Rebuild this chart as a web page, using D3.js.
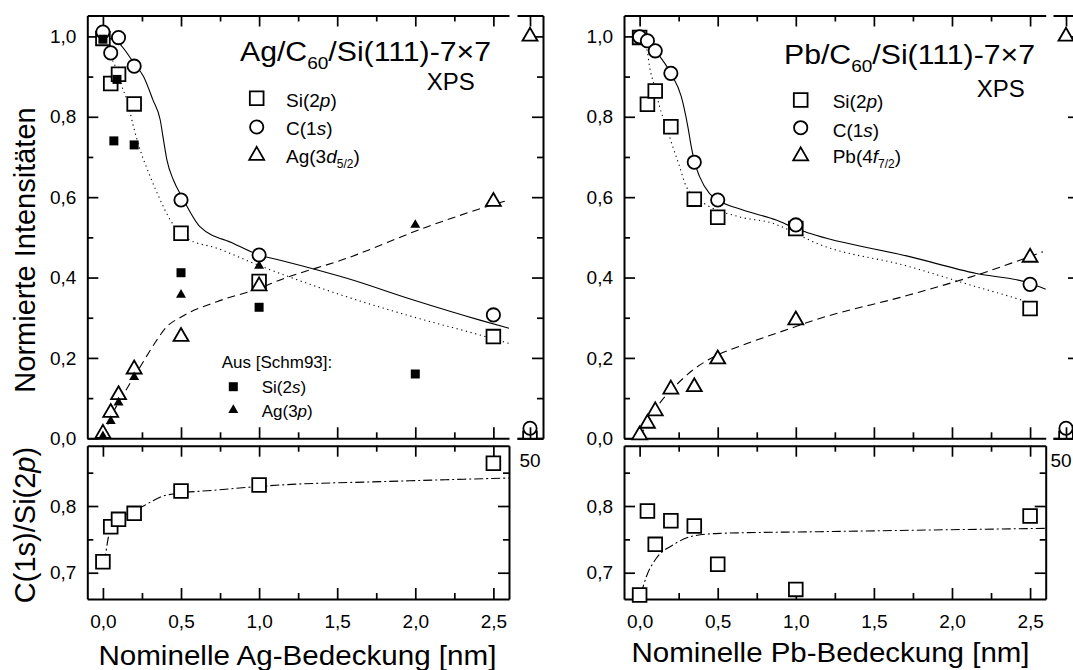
<!DOCTYPE html>
<html>
<head>
<meta charset="utf-8">
<script src="https://cdn.jsdelivr.net/npm/d3@7"></script>
<style>
  html, body { margin: 0; padding: 0; background: #fff; }
  svg { display: block; font-family: "Liberation Sans", Arial, Helvetica, sans-serif; }
</style>
</head>
<body>
<svg id="chart" width="1073" height="670"></svg>
<script>
// ---------- axis ticks ----------
const xMajor = [0, 0.5, 1, 1.5, 2, 2.5];
const xMinor = [0.25, 0.75, 1.25, 1.75, 2.25];
const yMajor = [0, 0.2, 0.4, 0.6, 0.8, 1.0];
const yMinor = [0.1, 0.3, 0.5, 0.7, 0.9];
const rMajor = [0.7, 0.8];
const rMinor = [0.75, 0.85];
const farX = [50];

// ---------- Ag/C60/Si(111)-7x7 ----------
const agX     = [0, 0.05, 0.1, 0.2, 0.5, 1.0, 2.5];
const agSi2p  = [0.995, 0.883, 0.906, 0.832, 0.51, 0.39, 0.253];
const agC1s   = [1.011, 0.959, 0.997, 0.926, 0.593, 0.456, 0.307];
const agAg3d  = [0.012, 0.064, 0.108, 0.172, 0.253, 0.379, 0.589];
const agRatio = [0.7165, 0.769, 0.78, 0.789, 0.8225, 0.8315, 0.864];
// values at 50 nm
const agFarSi2p = [0.0], agFarC1s = [0.025], agFarAg3d = [1.0];
// reference data [Schm93]
const schmSiX  = [0, 0.07, 0.09, 0.2, 0.5, 1.0, 2.0];
const schmSi2s = [0.993, 0.74, 0.893, 0.73, 0.412, 0.326, 0.16];
const schmAgX  = [0, 0.05, 0.1, 0.2, 0.5, 1.0, 2.0];
const schmAg3p = [0.005, 0.043, 0.089, 0.152, 0.357, 0.429, 0.531];
// guide curves
const agC1sFitX  = [0, 0.1, 0.2, 0.26, 0.32, 0.367, 0.388, 0.41, 0.452, 0.506, 0.623, 0.836, 1.0, 1.135, 1.562, 1.988, 2.414, 2.6];
const agC1sFitY  = [1.0, 0.984, 0.933, 0.9, 0.842, 0.792, 0.742, 0.692, 0.642, 0.601, 0.526, 0.485, 0.456, 0.443, 0.398, 0.344, 0.294, 0.274];
const agSiFitX   = [0, 0.05, 0.1, 0.122, 0.154, 0.196, 0.239, 0.303, 0.367, 0.431, 0.538, 0.73, 1.0, 1.135, 1.562, 1.988, 2.414, 2.6];
const agSiFitY   = [0.995, 0.95, 0.905, 0.875, 0.842, 0.775, 0.717, 0.651, 0.593, 0.543, 0.4975, 0.473, 0.43, 0.41, 0.352, 0.302, 0.257, 0.236];
const agAgFitX   = [0, 0.068, 0.154, 0.239, 0.324, 0.41, 0.501, 0.73, 1.0, 1.135, 1.562, 2.074, 2.565, 2.6];
const agAgFitY   = [0.004, 0.066, 0.124, 0.178, 0.232, 0.278, 0.302, 0.34, 0.373, 0.394, 0.448, 0.526, 0.589, 0.593];
const agRatioFitX = [0, 0.015, 0.036, 0.079, 0.26, 0.41, 0.73, 1.135, 1.775, 2.6];
const agRatioFitY = [0.716, 0.726, 0.754, 0.7715, 0.8, 0.8165, 0.824, 0.8315, 0.8365, 0.842];

// ---------- Pb/C60/Si(111)-7x7 ----------
const pbX     = [0, 0.05, 0.1, 0.2, 0.35, 0.5, 1.0, 2.5];
const pbSi2p  = [0.9975, 0.831, 0.864, 0.775, 0.595, 0.55, 0.522, 0.323];
const pbC1s   = [0.999, 0.989, 0.964, 0.908, 0.687, 0.593, 0.531, 0.383];
const pbPb4f  = [0.008, 0.037, 0.068, 0.122, 0.128, 0.197, 0.294, 0.45];
const pbRatio = [0.6666, 0.7925, 0.7425, 0.778, 0.77, 0.7126, 0.675, 0.785];
const pbFarSi2p = [0.0], pbFarC1s = [0.025], pbFarPb4f = [1.0];
const pbC1sFitX = [0, 0.047, 0.1, 0.2, 0.267, 0.309, 0.331, 0.352, 0.384, 0.448, 0.501, 0.661, 0.875, 1.0, 1.088, 1.729, 2.156, 2.5, 2.6];
const pbC1sFitY = [1.0, 0.99, 0.965, 0.908, 0.85, 0.775, 0.725, 0.687, 0.651, 0.609, 0.593, 0.568, 0.543, 0.522, 0.51, 0.452, 0.41, 0.386, 0.371];
const pbSiFitX  = [0, 0.047, 0.064, 0.096, 0.128, 0.171, 0.213, 0.256, 0.299, 0.384, 0.64, 0.853, 1.0, 1.088, 1.729, 2.156, 2.412, 2.5];
const pbSiFitY  = [0.998, 0.966, 0.924, 0.875, 0.825, 0.775, 0.725, 0.676, 0.626, 0.593, 0.551, 0.535, 0.51, 0.493, 0.427, 0.377, 0.348, 0.337];
const pbPbFitX  = [0, 0.064, 0.128, 0.213, 0.341, 0.497, 0.661, 1.0, 1.088, 1.729, 2.156, 2.582];
const pbPbFitY  = [0.004, 0.0455, 0.087, 0.124, 0.17, 0.207, 0.232, 0.278, 0.29, 0.357, 0.406, 0.464];
const pbRatioFitX = [0.01, 0.043, 0.107, 0.213, 0.341, 0.512, 1.152, 2.6];
const pbRatioFitY = [0.669, 0.694, 0.7216, 0.7415, 0.755, 0.759, 0.7615, 0.7665];

const svg = d3.select("#chart");
const fmt = d => d3.format(".1f")(d).replace(".", ",");
const zip = (xs, ys) => xs.map((v, i) => [v, ys[i]]);

// text made of pieces (italic letters, subscripts)
function richText(g, x, y, size, parts, anchor) {
  const t = g.append("text").attr("x", x).attr("y", y)
    .attr("font-size", size).attr("text-anchor", anchor || "start").attr("fill", "#000");
  let shift = 0;
  parts.forEach(p => {
    const s = t.append("tspan").text(p.t);
    if (p.i) s.attr("font-style", "italic");
    if (p.fs) s.attr("font-size", p.fs);
    const want = p.sub || 0;
    if (want !== shift) { s.attr("dy", want - shift); shift = want; }
  });
  return t;
}

function styleAxis(sel, keepDomain) {
  sel.selectAll("line").attr("stroke", "#000").attr("stroke-width", 1.7);
  sel.select(".domain").attr("stroke", "#000").attr("stroke-width", 2);
  if (!keepDomain) sel.select(".domain").remove();
  sel.selectAll("text").attr("font-size", 19).attr("fill", "#000")
    .attr("font-family", '"Liberation Sans", Arial, sans-serif');
}

function axisPair(g, make, scale, major, minor, tx, ty, labels, pad, domain) {
  const a = g.append("g").attr("transform", `translate(${tx},${ty})`)
    .call(make(scale).tickValues(major).tickSize(-11).tickSizeOuter(0)
      .tickPadding(pad || 11).tickFormat(labels ? fmt : ""));
  styleAxis(a, domain !== false);
  if (minor && minor.length) {
    const b = g.append("g").attr("transform", `translate(${tx},${ty})`)
      .call(make(scale).tickValues(minor).tickSize(-6).tickFormat(""));
    styleAxis(b, false);
  }
}

const sym = (type, size) => d3.symbol().type(type).size(size)();
const OPEN = { square: sym(d3.symbolSquare, 188), circle: sym(d3.symbolCircle, 139), triangle: sym(d3.symbolTriangle, 97) };
const FILLED = { square: sym(d3.symbolSquare, 81), triangle: sym(d3.symbolTriangle, 43) };

function markers(g, pts, xs, ys, path, filled) {
  g.selectAll(null).data(pts).join("path")
    .attr("d", path)
    .attr("transform", d => `translate(${xs(d[0])},${ys(d[1])})`)
    .attr("fill", filled ? "#000" : "#fff")
    .attr("stroke", "#000").attr("stroke-width", filled ? 0 : 1.8);
}

function curve(g, pts, xs, ys, dash) {
  const line = d3.line().x(d => xs(d[0])).y(d => ys(d[1])).curve(d3.curveMonotoneX);
  g.append("path").attr("d", line(pts)).attr("fill", "none")
    .attr("stroke", "#000").attr("stroke-width", 1.1)
    .attr("stroke-dasharray", dash);
}

function drawPanel(p) {
  const g = svg.append("g");
  const yTop = 15.5, yBot = 438.3, rTop = 445.7, rBot = 599;
  const x = d3.scaleLinear().domain([-0.1, 2.6]).range([p.left, p.right]);
  const xb = d3.scaleLinear().domain([49.5, 50.5]).range([p.bLeft, p.bRight]);
  const y = d3.scaleLinear().domain([0, 1.052]).range([yBot, yTop]);
  const yr = d3.scaleLinear().domain([0.6606, 0.8904]).range([rBot, rTop]);

  // ---- upper plot axes ----
  axisPair(g, d3.axisLeft, y, yMajor, yMinor, p.left, 0, true, 11);
  axisPair(g, d3.axisTop, x, xMajor, xMinor, 0, yTop, false);
  axisPair(g, d3.axisBottom, x, xMajor, xMinor, 0, yBot, false);
  // broken segment at 50 nm
  axisPair(g, d3.axisTop, xb, farX, [], 0, yTop, false);
  axisPair(g, d3.axisBottom, xb, farX, [], 0, yBot, false);
  axisPair(g, d3.axisRight, y, yMajor, yMinor, p.bRight, 0, false);
  g.append("text").attr("x", Math.min(xb(50), 1061)).attr("y", 467).attr("text-anchor", "middle")
    .attr("font-size", 19).text(fmt(50).replace(",0", ""));

  // ---- lower plot axes ----
  axisPair(g, d3.axisLeft, yr, rMajor, rMinor, p.left, 0, true, 11);
  axisPair(g, d3.axisRight, yr, rMajor, rMinor, p.right, 0, false);
  axisPair(g, d3.axisTop, x, xMajor, xMinor, 0, rTop, false);
  axisPair(g, d3.axisBottom, x, xMajor, xMinor, 0, rBot, true, 16);

  // ---- curves ----
  curve(g, p.c1sFit, x, y, null);
  curve(g, p.siFit, x, y, "1.2,3.6");
  curve(g, p.mFit, x, y, "8,5");
  curve(g, p.ratioFit, x, yr, "9,3,2,3");

  // ---- markers ----
  markers(g, p.si, x, y, OPEN.square);
  markers(g, p.c1s, x, y, OPEN.circle);
  markers(g, p.m, x, y, OPEN.triangle);
  if (p.refSi) markers(g, p.refSi, x, y, FILLED.square, true);
  if (p.refM) markers(g, p.refM, x, y, FILLED.triangle, true);
  markers(g, p.ratio, x, yr, OPEN.square);

  const clipId = "clip" + p.key;
  svg.append("clipPath").attr("id", clipId).append("rect")
    .attr("x", p.bLeft - 10).attr("y", 0).attr("width", 60).attr("height", yBot);
  const gf = g.append("g").attr("clip-path", `url(#${clipId})`);
  markers(gf, p.farSi, xb, y, OPEN.square);
  markers(gf, p.farC, xb, y, OPEN.circle);
  markers(gf, p.farM, xb, y, OPEN.triangle);
  // redraw the axis segment over the clipped markers
  axisPair(g, d3.axisBottom, xb, farX, [], 0, yBot, false);

  // ---- title and legend ----
  richText(g, p.titleX, p.titleY, 27, [{ t: p.metal + "/C" }, { t: "60", sub: 8, fs: 17 }, { t: "/Si(111)-7×7" }])
    .attr("textLength", 251).attr("lengthAdjust", "spacingAndGlyphs");
  richText(g, p.xpsX, p.xpsY, 24, [{ t: "XPS" }]);

  const lg = p.legend;
  const rows = [OPEN.square, OPEN.circle, OPEN.triangle];
  rows.forEach((d, i) => {
    g.append("path").attr("d", d).attr("transform", `translate(${lg.sx},${lg.sy[i]})`)
      .attr("fill", "#fff").attr("stroke", "#000").attr("stroke-width", 1.8);
    richText(g, lg.tx, lg.ty[i], 19, lg.labels[i]);
  });

  // axis titles
  richText(g, p.xTitleX, p.xTitleY, 27, [{ t: "Nominelle " + p.metal + "-Bedeckung [nm]" }], "middle")
    .attr("textLength", 398).attr("lengthAdjust", "spacingAndGlyphs");
  return { g, x, y };
}

const left = drawPanel({
  key: "ag", metal: "Ag", left: 87.3, right: 509, bLeft: 517, bRight: 543,
  si: zip(agX, agSi2p), c1s: zip(agX, agC1s), m: zip(agX, agAg3d), ratio: zip(agX, agRatio),
  farSi: zip(farX, agFarSi2p), farC: zip(farX, agFarC1s), farM: zip(farX, agFarAg3d),
  refSi: zip(schmSiX, schmSi2s), refM: zip(schmAgX, schmAg3p),
  c1sFit: zip(agC1sFitX, agC1sFitY), siFit: zip(agSiFitX, agSiFitY), mFit: zip(agAgFitX, agAgFitY),
  ratioFit: zip(agRatioFitX, agRatioFitY),
  titleX: 240, titleY: 61, xpsX: 426.7, xpsY: 90,
  legend: { sx: 256.7, sy: [98.3, 127, 155.5], tx: 286, ty: [106.7, 135, 162.7],
    labels: [[{ t: "Si(2" }, { t: "p", i: 1 }, { t: ")" }],
             [{ t: "C(1" }, { t: "s", i: 1 }, { t: ")" }],
             [{ t: "Ag(3" }, { t: "d", i: 1 }, { t: "5/2", sub: 5, fs: 12 }, { t: ")" }]] },
  xTitleX: 297.4, xTitleY: 665
});

const right = drawPanel({
  key: "pb", metal: "Pb", left: 624, right: 1045.7, bLeft: 1053, bRight: 1079,
  si: zip(pbX, pbSi2p), c1s: zip(pbX, pbC1s), m: zip(pbX, pbPb4f), ratio: zip(pbX, pbRatio),
  farSi: zip(farX, pbFarSi2p), farC: zip(farX, pbFarC1s), farM: zip(farX, pbFarPb4f),
  c1sFit: zip(pbC1sFitX, pbC1sFitY), siFit: zip(pbSiFitX, pbSiFitY), mFit: zip(pbPbFitX, pbPbFitY),
  ratioFit: zip(pbRatioFitX, pbRatioFitY),
  titleX: 784, titleY: 64, xpsX: 976.7, xpsY: 97,
  legend: { sx: 800.7, sy: [100, 127.7, 156], tx: 832.7, ty: [108.3, 136.7, 163.3],
    labels: [[{ t: "Si(2" }, { t: "p", i: 1 }, { t: ")" }],
             [{ t: "C(1" }, { t: "s", i: 1 }, { t: ")" }],
             [{ t: "Pb(4" }, { t: "f", i: 1 }, { t: "7/2", sub: 5, fs: 12 }, { t: ")" }]] },
  xTitleX: 830.5, xTitleY: 662
});

// reference data legend
const lg2 = left.g;
richText(lg2, 221.7, 368.3, 17, [{ t: "Aus [Schm93]:" }]);
lg2.append("path").attr("d", FILLED.square).attr("transform", "translate(233.3,386.7)").attr("fill", "#000");
richText(lg2, 261.7, 393.3, 17, [{ t: "Si(2" }, { t: "s", i: 1 }, { t: ")" }]);
lg2.append("path").attr("d", FILLED.triangle).attr("transform", "translate(233.3,410)").attr("fill", "#000");
richText(lg2, 261.7, 416.7, 17, [{ t: "Ag(3" }, { t: "p", i: 1 }, { t: ")" }]);

// y-axis titles (left panel only)
svg.append("text").attr("transform", "translate(35,250) rotate(-90)")
  .attr("text-anchor", "middle").attr("font-size", 29).text("Normierte Intensitäten");
richText(svg.append("g").attr("transform", "translate(35,525) rotate(-90)"), 0, 0, 29,
  [{ t: "C(1s)/Si(2" }, { t: "p", i: 1 }, { t: ")" }], "middle");
</script>
</body>
</html>
